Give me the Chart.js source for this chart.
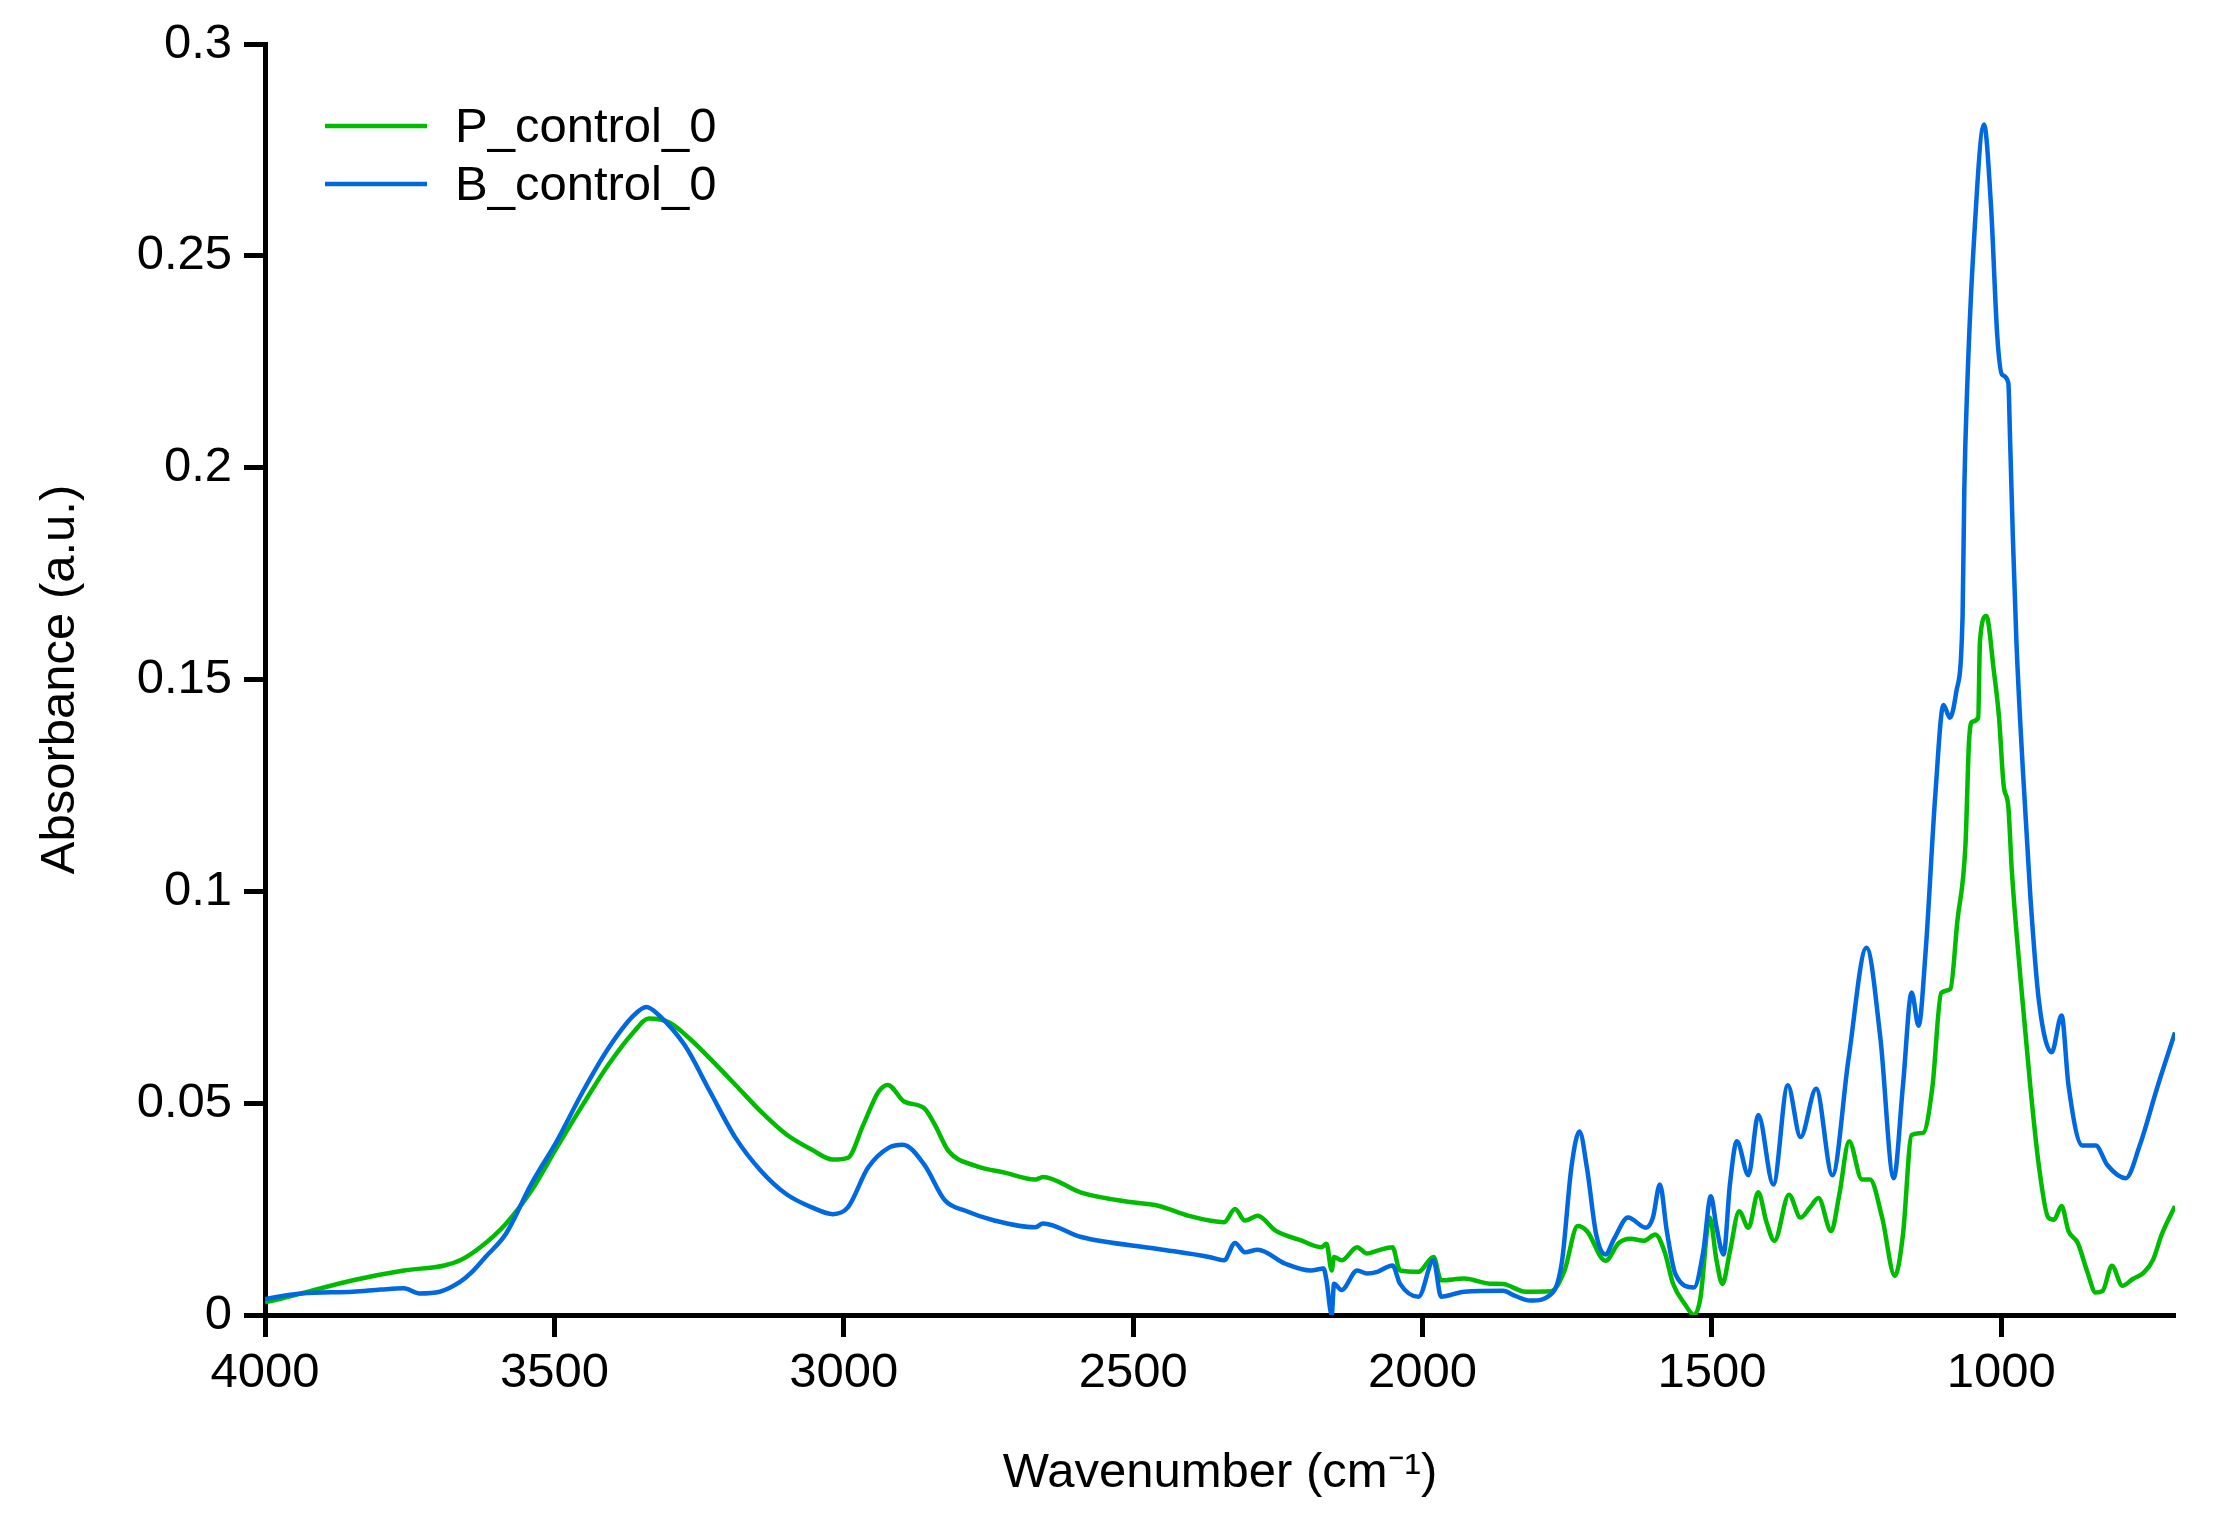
<!DOCTYPE html>
<html lang="en">
<head>
  <meta charset="UTF-8">
  <title>FTIR spectra</title>
  <script src="https://cdn.jsdelivr.net/npm/chart.js"></script>
  <style>
    body { margin: 0; background: #fff; }
  </style>
</head>
<body>
  <canvas id="spectrum" width="2215" height="1517"></canvas>

  <script>
    // P_control_0 (green)
    const pWavenumber = [4000, 3990, 3937, 3848, 3760, 3690, 3663, 3628, 3584, 3540, 3496, 3451, 3407, 3363, 3337, 3302, 3266, 3231, 3187, 3143, 3099, 3055, 3019, 2993, 2966, 2940, 2924, 2896, 2861, 2843, 2819, 2772, 2722, 2669, 2656, 2590, 2502, 2457, 2404, 2343, 2324, 2307, 2285, 2254, 2210, 2175, 2166, 2157, 2153, 2140, 2113, 2096, 2078, 2052, 2039, 2007, 1981, 1968, 1928, 1884, 1861, 1822, 1778, 1755, 1732, 1716, 1684, 1661, 1641, 1618, 1598, 1582, 1567, 1547, 1531, 1520, 1504, 1492, 1482, 1469, 1453, 1437, 1420, 1406, 1392, 1367, 1347, 1331, 1316, 1294, 1280, 1263, 1241, 1227, 1206, 1184, 1170, 1155, 1135, 1119, 1104, 1088, 1076, 1062, 1056, 1051, 1040, 1037, 1026, 1013, 1004, 996, 988, 982, 966, 950, 935, 919, 909, 896, 884, 868, 852, 837, 825, 809, 791, 773, 754, 738, 723, 700];
    const pAbsorbance = [0.003, 0.0033, 0.0051, 0.0082, 0.0105, 0.0117, 0.0129, 0.016, 0.0215, 0.0293, 0.0395, 0.0496, 0.059, 0.0668, 0.070, 0.0691, 0.0652, 0.0605, 0.0543, 0.048, 0.0426, 0.039, 0.0367, 0.0371, 0.045, 0.0527, 0.0543, 0.0504, 0.0488, 0.045, 0.0387, 0.0352, 0.0336, 0.032, 0.0326, 0.0289, 0.0266, 0.0258, 0.0234, 0.0219, 0.025, 0.0223, 0.0234, 0.0199, 0.0176, 0.016, 0.0168, 0.0105, 0.0137, 0.0129, 0.016, 0.0145, 0.0152, 0.016, 0.0105, 0.0102, 0.0137, 0.0082, 0.0086, 0.0074, 0.0073, 0.0055, 0.0056, 0.0104, 0.021, 0.0198, 0.0128, 0.017, 0.018, 0.0175, 0.019, 0.015, 0.0073, 0.0026, 0.0, 0.004, 0.023, 0.0128, 0.0073, 0.015, 0.0245, 0.0206, 0.029, 0.022, 0.0175, 0.0284, 0.023, 0.0253, 0.0276, 0.0198, 0.0284, 0.041, 0.032, 0.032, 0.023, 0.0092, 0.019, 0.0425, 0.043, 0.054, 0.076, 0.077, 0.093, 0.111, 0.135, 0.140, 0.141, 0.159, 0.165, 0.152, 0.141, 0.125, 0.120, 0.105, 0.078, 0.054, 0.035, 0.023, 0.0225, 0.0257, 0.0198, 0.017, 0.0104, 0.0053, 0.0057, 0.0116, 0.0069, 0.0085, 0.010, 0.013, 0.019, 0.0257];

    // B_control_0 (blue)
    const bWavenumber = [4000, 3994, 3937, 3848, 3800, 3760, 3734, 3698, 3663, 3645, 3619, 3584, 3540, 3496, 3451, 3407, 3363, 3341, 3319, 3275, 3231, 3187, 3143, 3099, 3055, 3019, 2993, 2958, 2922, 2898, 2861, 2825, 2790, 2740, 2669, 2656, 2590, 2457, 2369, 2343, 2324, 2307, 2285, 2237, 2193, 2171, 2166, 2157, 2153, 2140, 2113, 2096, 2078, 2052, 2039, 2007, 1981, 1968, 1928, 1861, 1840, 1814, 1775, 1759, 1743, 1729, 1716, 1700, 1684, 1669, 1645, 1614, 1602, 1590, 1578, 1563, 1531, 1515, 1502, 1492, 1480, 1469, 1457, 1437, 1420, 1394, 1369, 1347, 1320, 1292, 1264, 1233, 1209, 1186, 1170, 1155, 1143, 1131, 1114, 1100, 1089, 1078, 1067, 1064, 1059, 1048, 1030, 1018, 1007, 999, 988, 985, 980, 974, 963, 950, 935, 913, 896, 884, 860, 837, 817, 785, 761, 730, 700];
    const bAbsorbance = [0.0037, 0.0039, 0.0051, 0.0055, 0.006, 0.0063, 0.0051, 0.0055, 0.0078, 0.0098, 0.0137, 0.0191, 0.0309, 0.041, 0.0527, 0.0629, 0.0707, 0.0727, 0.0707, 0.0637, 0.0527, 0.0418, 0.034, 0.0285, 0.0254, 0.0238, 0.0254, 0.0348, 0.0395, 0.0402, 0.0355, 0.027, 0.0246, 0.0223, 0.0207, 0.0216, 0.0184, 0.0156, 0.0137, 0.0129, 0.017, 0.0148, 0.0154, 0.0121, 0.0105, 0.011, 0.0082, 0.0, 0.0074, 0.0059, 0.0105, 0.0098, 0.0102, 0.0117, 0.0074, 0.0043, 0.0129, 0.0043, 0.0055, 0.0057, 0.0045, 0.0034, 0.0053, 0.0128, 0.0347, 0.0433, 0.0347, 0.019, 0.0143, 0.018, 0.023, 0.0206, 0.023, 0.0308, 0.0198, 0.0096, 0.0065, 0.015, 0.028, 0.0206, 0.0143, 0.0308, 0.041, 0.033, 0.0472, 0.0308, 0.0542, 0.042, 0.0534, 0.033, 0.0605, 0.0867, 0.0653, 0.0323, 0.0542, 0.0761, 0.0683, 0.0855, 0.123, 0.144, 0.141, 0.147, 0.165, 0.195, 0.219, 0.252, 0.281, 0.262, 0.231, 0.222, 0.220, 0.207, 0.183, 0.159, 0.129, 0.099, 0.074, 0.062, 0.0707, 0.0542, 0.040, 0.040, 0.0354, 0.0323, 0.040, 0.054, 0.0667];

    const xTicks = [4000, 3500, 3000, 2500, 2000, 1500, 1000];
    const yTicks = [0, 0.05, 0.1, 0.15, 0.2, 0.25, 0.3];

    const FONT = "'Liberation Sans', Arial, sans-serif";

    const toPoints = (xs, ys) => xs.map((x, i) => ({ x: x, y: ys[i] }));

    // legend drawn inside the plot, top-left, as in the figure
    const insideLegend = {
      id: 'insideLegend',
      afterDraw(chart) {
        const { ctx, chartArea } = chart;
        ctx.save();
        ctx.font = '49px ' + FONT;
        ctx.textBaseline = 'middle';
        chart.data.datasets.forEach((ds, i) => {
          const y = chartArea.top + 82 + i * 58;
          ctx.strokeStyle = ds.borderColor;
          ctx.lineWidth = 4.5;
          ctx.beginPath();
          ctx.moveTo(chartArea.left + 60, y);
          ctx.lineTo(chartArea.left + 162, y);
          ctx.stroke();
          ctx.fillStyle = '#000';
          ctx.fillText(ds.label, chartArea.left + 190, y + 2);
        });
        ctx.restore();
      }
    };

    const chart = new Chart(document.getElementById('spectrum'), {
      type: 'line',
      data: {
        datasets: [{
          label: 'P_control_0',
          data: toPoints(pWavenumber, pAbsorbance),
          borderColor: '#00BC00',
          borderWidth: 4.5,
          pointRadius: 0,
          cubicInterpolationMode: 'monotone',
          order: 1
        }, {
          label: 'B_control_0',
          data: toPoints(bWavenumber, bAbsorbance),
          borderColor: '#0068E0',
          borderWidth: 4.5,
          pointRadius: 0,
          cubicInterpolationMode: 'monotone',
          order: 0
        }]
      },
      options: {
        responsive: false,
        animation: false,
        devicePixelRatio: 1,
        layout: { padding: { top: 44, right: 40, bottom: 0, left: 0 } },
        plugins: {
          legend: { display: false },
          tooltip: { enabled: false }
        },
        scales: {
          x: {
            type: 'linear',
            reverse: true,
            min: 700,
            max: 4000,
            afterBuildTicks: axis => { axis.ticks = xTicks.map(v => ({ value: v })); },
            afterFit: axis => { axis.height = 202; },
            grid: { drawOnChartArea: false, tickLength: 22, tickWidth: 5, tickColor: '#000' },
            border: { display: true, width: 5, color: '#000' },
            ticks: {
              color: '#000',
              padding: 7,
              maxRotation: 0,
              font: { family: FONT, size: 49 },
              callback: v => String(v)
            },
            title: {
              display: true,
              text: 'Wavenumber (cm\u207B\u00B9)',
              color: '#000',
              font: { family: FONT, size: 49 },
              padding: { top: 0, bottom: 14 }
            }
          },
          y: {
            min: 0,
            max: 0.3,
            afterBuildTicks: axis => { axis.ticks = yTicks.map(v => ({ value: v })); },
            afterFit: axis => { axis.width = 265; },
            grid: { drawOnChartArea: false, tickLength: 21, tickWidth: 5, tickColor: '#000' },
            border: { display: true, width: 5, color: '#000' },
            ticks: {
              color: '#000',
              padding: 12,
              font: { family: FONT, size: 49 },
              callback: v => String(+v.toFixed(2))
            },
            title: {
              display: true,
              text: 'Absorbance (a.u.)',
              color: '#000',
              font: { family: FONT, size: 49 },
              padding: { top: 31, bottom: 0 }
            }
          }
        }
      },
      plugins: [insideLegend]
    });
  </script>
</body>
</html>
